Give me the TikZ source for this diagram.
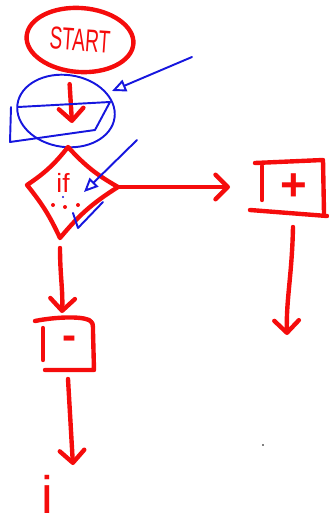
\documentclass[tikz,border=0pt]{standalone}
\usepackage{fontspec}
\newfontfamily\sketchfont{Liberation Sans}
\usetikzlibrary{arrows.meta,positioning,calc,shapes.geometric}

\definecolor{redpen}{RGB}{245,12,12}
\definecolor{bluepen}{RGB}{22,22,222}

\begin{document}
\begin{tikzpicture}[x=0.02cm, y=-0.02cm,
    redline/.style={redpen, line width=2.5pt, line cap=round, line join=round},
    blueline/.style={bluepen, line width=1.1pt, line cap=round, line join=round},
    chevron/.style={-{Straight Barb[round, length=7pt, width=14pt]}},
    hollow/.style={-{Triangle[open, length=8pt, width=7pt]}},
    pen/.style={text=redpen, inner sep=0pt, font=\sketchfont}]
    \useasboundingbox (0,0) rectangle (328,527);

    % Start
    \node[pen, ellipse, draw=redpen, line width=2.5pt, rotate=-4,
          minimum width=2.14cm, minimum height=1.28cm] (start) at (80,40)
          {\fontsize{18}{18}\selectfont\scalebox{0.6}[1]{START}};
    \coordinate (io in) at (72,123);
    \draw[redline, chevron] ($(start.south)+(-8,10)$) -- (io in);

    % Input box, circled
    \draw[blueline, rotate around={-8:(66,111)}] (66,111) ellipse (49 and 36);
    \draw[blueline] (18,107) -- (110,102) -- (95,130) -- (10,142) -- (11,107);
    \coordinate (io mark) at (112,91);
    \draw[blueline, hollow] (192,57) -- (io mark);

    % Decision
    \coordinate (dl) at (27,185);
    \coordinate (dt) at (68,147);
    \coordinate (dr) at (118,187);
    \coordinate (db) at (60,238);
    \draw[redline] (dl) to[bend right=9] (dt) to[bend right=9] (dr)
        to[bend right=9] (db) to[bend right=7] cycle;
    \node[pen, font=\sketchfont\fontsize{15}{15}\selectfont] (cond) at (63,183) {if};
    \foreach \p in {(53,205),(65,207),(78,205)}
        \fill[redpen] \p circle (2);
    \fill[bluepen] (63,197) circle (1.2);
    \coordinate (cond mark) at (84,192);
    \draw[blueline, hollow] (137,140) -- (cond mark);
    \draw[blueline] (73,213) -- (78,228) -- (103,202);

    % True branch
    \coordinate (plus in) at (230,187);
    \draw[redline, chevron] (dr) -- (plus in);
    \draw[redline] (255,163) -- (323,160) -- (324,213);
    \draw[redline] (250,210) -- (327,216);
    \draw[redline] (262,166) -- (262,200);
    \node[pen, font=\sketchfont\bfseries\fontsize{26}{26}\selectfont] (plus) at (294,187) {+};
    \coordinate (plus out) at (293,227);
    \coordinate (plus end) at (287,335);
    \draw[redline, chevron] (plus out) .. controls (292,275) and (286,300) .. (plus end);

    % False branch
    \coordinate (minus in) at (62,313);
    \draw[redline, chevron] ($(db)+(0,10)$) .. controls (60,275) and (63,290) .. (minus in);
    \draw[redline] (35,321) .. controls (55,317) and (80,316) .. (89,320)
        .. controls (93,323) .. (93,332) -- (94,370) -- (45,370);
    \draw[redline] (43,328) -- (43,360);
    \node[pen, font=\sketchfont\bfseries\fontsize{24}{24}\selectfont] (minus) at (70,343) {-};
    \coordinate (minus out) at (68,379);
    \coordinate (minus end) at (73,465);
    \draw[redline, chevron] (minus out) .. controls (70,420) .. (minus end);
    \node[pen, font=\sketchfont\fontsize{30}{30}\selectfont] (next) at (47,494) {i};

    \fill[black] (263,445) circle (0.8);
\end{tikzpicture}
\end{document}
